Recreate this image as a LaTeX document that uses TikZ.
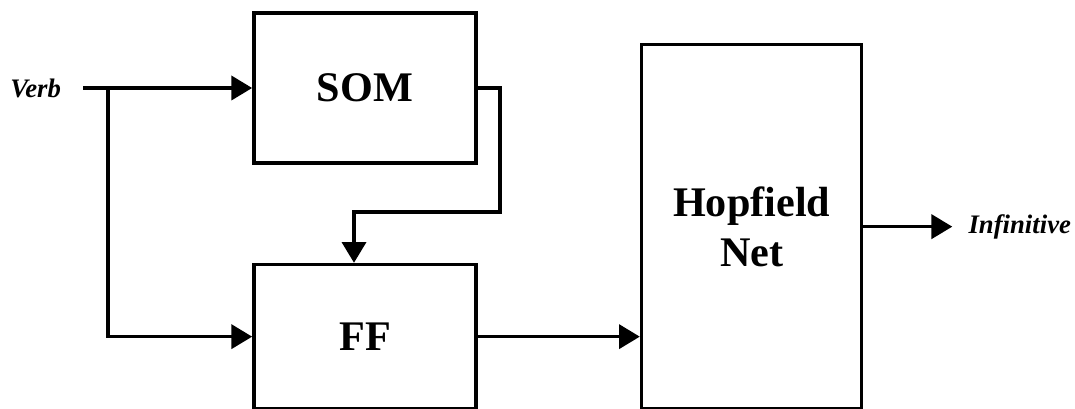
\documentclass[tikz,border=0pt]{standalone}
\usepackage{fontspec}
\setmainfont{Liberation Serif}
\usetikzlibrary{arrows.meta, positioning}
\tikzset{
  block/.style={rectangle, draw, line width=2.6pt, font=\fontsize{30}{35.5}\selectfont\bfseries, align=center},
  flow/.style={line width=2.6pt, -{Triangle[length=0.52cm,width=0.6cm]}},
  io/.style={font=\fontsize{19}{19}\selectfont\bfseries\itshape, inner sep=0pt}
}

\begin{document}
\begin{tikzpicture}
    \useasboundingbox (0,0) rectangle (26.875,-10.225);
    % Blocks
    \node (som) [block, minimum width=5.55cm, minimum height=3.75cm] at (9.125,-2.2) {SOM};
    \node (ff) [block, minimum width=5.55cm, minimum height=3.6cm, below=2.45cm of som] {FF};
    \node (hop) [block, minimum width=5.5cm, minimum height=9.1cm, right=4.05cm of ff.south east, anchor=south west] {Hopfield\\Net};

    % Input and output
    \path (som.west) ++(-4.225,0) coordinate (vin) ++(0.625,0) coordinate (split);
    \node (verb) [io, left=0.55cm of vin] {Verb};
    \node (inf) [io, right=2.62cm of hop] {Infinitive};

    % Connectors
    \draw[flow] (vin) -- (som.west);
    \draw[flow] (split) |- (ff.west);
    \draw[flow] (som.east) -- ++(0.55,0) -- ++(0,-3.1) -| ([xshift=-0.275cm]ff.north);
    \draw[flow] (ff.east) -- (ff.east -| hop.west);
    \draw[flow, shorten >=0.4cm] (hop.east) -- (inf.west);
\end{tikzpicture}
\end{document}
